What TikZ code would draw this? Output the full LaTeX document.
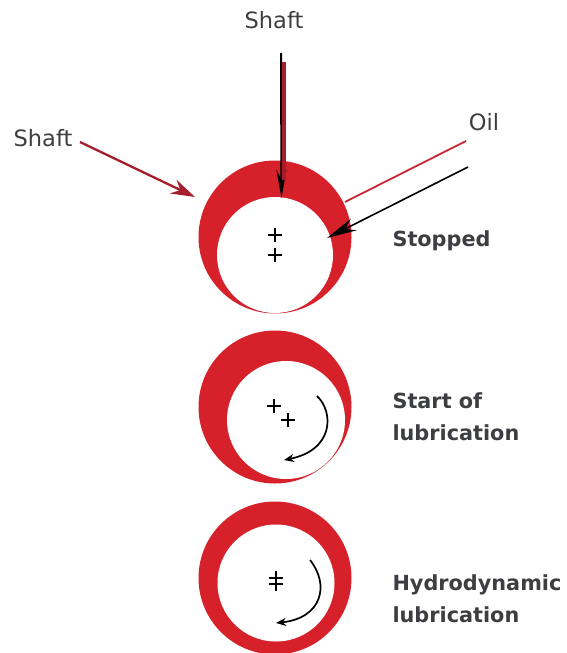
\documentclass[tikz,border=0pt]{standalone}
\usepackage{fontspec}
\setmainfont{DejaVu Sans}
\usetikzlibrary{arrows.meta,shapes.misc}
\definecolor{bearingred}{RGB}{214,32,42}
\definecolor{labelgrey}{RGB}{60,62,66}
\definecolor{pointerred}{RGB}{200,40,50}
\definecolor{shaftred}{RGB}{165,30,45}

\begin{document}
\begin{tikzpicture}[
  x=1pt,y=-1pt,
  >=Stealth,
  bearing/.style={circle,fill=bearingred,inner sep=0pt,minimum size=153pt},
  journal/.style={circle,fill=white,inner sep=0pt},
  tag/.style={text=labelgrey,font=\fontsize{22.5}{22.5}\selectfont},
  state/.style={text=labelgrey,font=\fontsize{20.8}{32}\selectfont\bfseries,align=left,anchor=west},
  centre/.style={cross out,rotate=45,draw=black,line width=1.3pt,inner sep=0pt,minimum size=9pt},
  redflow/.style={-{Stealth[length=24pt,width=15pt]},shaftred,line width=2.3pt},
  blackflow/.style={-{Stealth[length=30pt,width=13pt]},black,line width=1.6pt},
  spin/.style={-{Stealth[length=10pt,width=8pt]},black,line width=1.7pt}
]
  \useasboundingbox (0,0) rectangle (566,653);

  % stopped
  \node[bearing] (outerA) at (275,237) {};
  \node[journal,minimum size=116pt] (innerA) at (275,255) {};
  \node[centre] (plusAa) at (275,235) {};
  \node[centre] (plusAb) at (275,255) {};

  % start of lubrication
  \node[bearing] (outerB) at (275,407) {};
  \node[journal,minimum size=118pt] (innerB) at (286,420) {};
  \node[centre] (plusBa) at (274,406) {};
  \node[centre] (plusBb) at (288,420) {};

  % hydrodynamic
  \node[bearing] (outerC) at (275,578) {};
  \node[journal,minimum size=117pt] (innerC) at (276,583) {};
  \node[centre] (plusCa) at (276,578) {};
  \node[centre] (plusCb) at (276,584) {};

  % labels
  \node[tag] (shaftTop) at (274,20) {Shaft};
  \node[tag] (shaftLeft) at (43,138) {Shaft};
  \node[tag] (oil) at (484,122) {Oil};
  \node[state] (stopped) at (389,241) {Stopped};
  \node[state] (start) at (389,417) {Start of\\lubrication};
  \node[state] (hydro) at (389,599) {Hydrodynamic\\lubrication};

  % free ends of the pointers
  \coordinate (topBlack) at (281,53);
  \coordinate (topRed) at (284,62);
  \coordinate (topRim) at (284,180);
  \coordinate (topTip) at (281.5,198);
  \coordinate (oilRed) at (466,141);
  \coordinate (oilRim) at (345,202);
  \coordinate (oilBlack) at (468,167);
  \coordinate (oilTip) at (327,238);
  \coordinate (leftEnd) at (80,142);
  \coordinate (leftTip) at (195,197);
  \coordinate (spinBa) at (317,396);
  \coordinate (spinBb) at (284,460);
  \coordinate (spinCa) at (310,560);
  \coordinate (spinCb) at (276,623);

  \draw[-{Stealth[length=28pt,width=10pt]},black,line width=2pt] (topBlack) -- (topTip);
  \draw[shaftred,line width=3.5pt] (topRed) -- (topRim);
  \draw[redflow] (leftEnd) -- (leftTip);
  \draw[pointerred,line width=1.8pt] (oilRed) -- (oilRim);
  \draw[blackflow] (oilBlack) -- (oilTip);

  \draw[spin] (spinBa) .. controls (334,412) and (334,450) .. (spinBb);
  \draw[spin] (spinCa) .. controls (330,585) and (322,618) .. (spinCb);
\end{tikzpicture}
\end{document}
